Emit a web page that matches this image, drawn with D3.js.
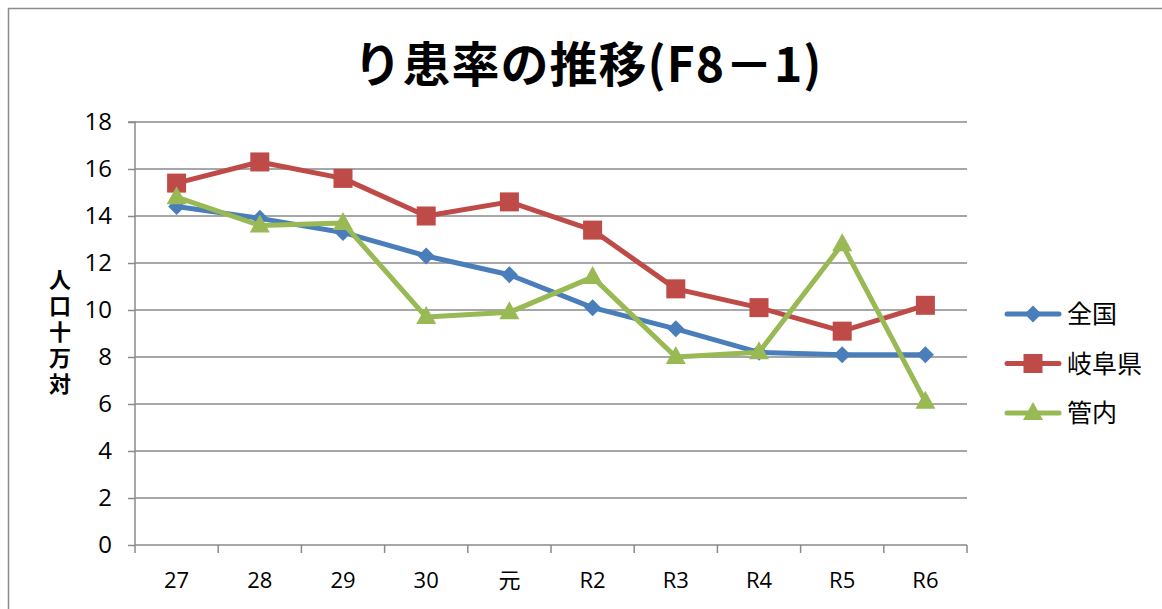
<!DOCTYPE html>
<html><head><meta charset="utf-8">
<script src="https://cdn.jsdelivr.net/npm/d3@7"></script>
<style>body{margin:0;background:#fff}svg{display:block}</style>
</head><body>
<svg id="c" width="1162" height="609"></svg>
<script>
const categories = ["27","28","29","30","元","R2","R3","R4","R5","R6"];
const zenkoku = [14.4,13.9,13.3,12.3,11.5,10.1,9.2,8.2,8.1,8.1];
const gifu = [15.4,16.3,15.6,14.0,14.6,13.4,10.9,10.1,9.1,10.2];
const kannai = [14.8,13.6,13.7,9.7,9.9,11.4,8.0,8.2,12.8,6.1];
const seriesNames = ["全国","岐阜県","管内"];
const yTicks = [0,2,4,6,8,10,12,14,16,18];
const title = "り患率の推移(F8－1)";
const yLabel = "人口十万対";

(function(){
const colors = ["#4a7ebb","#be4b48","#98b954"];
const series = [zenkoku, gifu, kannai];
const svg = d3.select("#c");
const W=1162,H=609;
const mL=135,mR=967,mT=122,mB=545;
const font = "'Noto Sans CJK JP', sans-serif";

svg.append("rect").attr("x",8.5).attr("y",8.5).attr("width",W).attr("height",H)
  .attr("fill","#fff").attr("stroke","#8c8c8c").attr("stroke-width",1.5);

const x = d3.scaleBand().domain(categories).range([mL,mR]);
const y = d3.scaleLinear().domain([0,18]).range([mB,mT]);

svg.append("g").selectAll("line").data(yTicks.filter(d=>d>0)).join("line")
  .attr("x1",mL).attr("x2",mR).attr("y1",d=>y(d)).attr("y2",d=>y(d))
  .attr("stroke","#8a8a8a").attr("stroke-width",1.5);

const ya = svg.append("g").attr("transform",`translate(${mL},0)`)
  .call(d3.axisLeft(y).tickValues(yTicks).tickSize(7).tickPadding(16));
ya.select(".domain").attr("stroke","#8a8a8a").attr("stroke-width",1.5).attr("d",`M-7,${mT}H0V${mB}`);
ya.selectAll(".tick line").attr("stroke","#8a8a8a").attr("stroke-width",1.5);
ya.selectAll("text").style("font-family","'Open Sans', sans-serif").style("font-size","24px").attr("fill","#000");

const xa = svg.append("g").attr("transform",`translate(0,${mB})`)
  .call(d3.axisBottom(x).tickSize(0).tickPadding(27));
xa.select(".domain").attr("stroke","#8a8a8a").attr("stroke-width",1.5).attr("d",`M${mL},0H${mR}`);
xa.selectAll("text").style("font-family","'Open Sans', 'Noto Sans CJK JP', sans-serif").style("font-size","22px").attr("fill","#000");
const bounds = categories.map(c=>x(c)).concat([mR]);
svg.append("g").selectAll("line").data(bounds).join("line")
  .attr("x1",d=>d).attr("x2",d=>d).attr("y1",mB).attr("y2",mB+8)
  .attr("stroke","#8a8a8a").attr("stroke-width",1.5);

svg.append("text").attr("x",588).attr("y",82).attr("text-anchor","middle")
  .attr("font-family",font).attr("font-weight","bold").attr("font-size",48)
  .attr("letter-spacing",1).text(title);

svg.append("text").attr("x",60).attr("y",269)
  .attr("font-family",font).attr("font-weight","bold").attr("font-size",22)
  .attr("letter-spacing",4)
  .style("writing-mode","vertical-rl").style("text-orientation","upright")
  .text(yLabel);

const line = d3.line().x((d,i)=>x(categories[i])+x.bandwidth()/2).y(d=>y(d));

function marker(g, k, cx, cy){
  if(k===0){
    const r=8.5;
    g.append("path").attr("d",`M${cx},${cy-r}L${cx+r},${cy}L${cx},${cy+r}L${cx-r},${cy}Z`).attr("fill",colors[k]);
  } else if(k===1){
    g.append("rect").attr("x",cx-9.5).attr("y",cy-9.5).attr("width",19).attr("height",19).attr("fill",colors[k]);
  } else {
    g.append("path").attr("d",`M${cx},${cy-11}L${cx+10},${cy+7}L${cx-10},${cy+7}Z`).attr("fill",colors[k]);
  }
}

series.forEach((s,k)=>{
  const g = svg.append("g");
  g.append("path").attr("d",line(s)).attr("fill","none").attr("stroke",colors[k])
    .attr("stroke-width",5).attr("stroke-linejoin","round").attr("stroke-linecap","round");
  s.forEach((v,i)=>marker(g,k,x(categories[i])+x.bandwidth()/2,y(v)));
});

seriesNames.forEach((n,k)=>{
  const ly = 314 + k*49.5;
  const g = svg.append("g");
  g.append("line").attr("x1",1007).attr("x2",1059).attr("y1",ly).attr("y2",ly)
    .attr("stroke",colors[k]).attr("stroke-width",5).attr("stroke-linecap","round");
  marker(g,k,1033,ly);
  g.append("text").attr("x",1067).attr("y",ly+9).attr("font-family",font).attr("font-size",25).text(n);
});
})();
</script>
</body></html>
